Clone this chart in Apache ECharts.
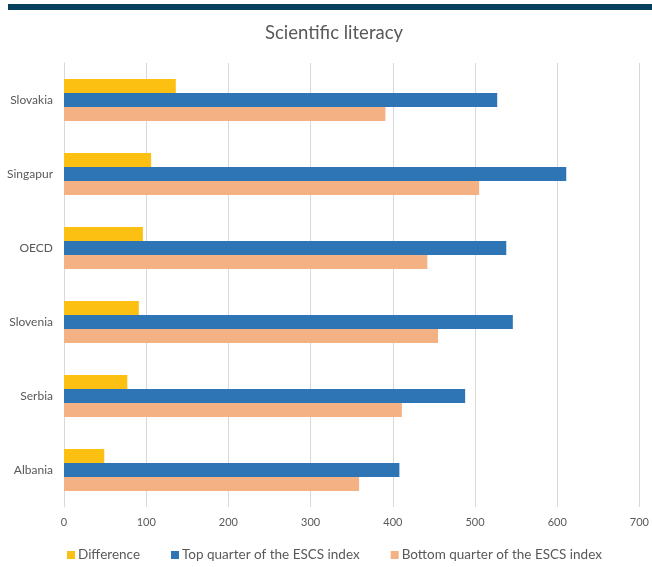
<!DOCTYPE html>
<html>
<head>
<meta charset="utf-8">
<script src="https://cdn.jsdelivr.net/npm/echarts@6/dist/echarts.min.js"></script>
<style>
  html, body { margin: 0; padding: 0; background: #fff; }
  #chart { width: 652px; height: 567px; }
</style>
</head>
<body>
<div id="chart"></div>
<script>
// Countries, listed from the bottom of the axis upward
const countries = ['Albania', 'Serbia', 'Slovenia', 'OECD', 'Singapur', 'Slovakia'];
// Score gap between the two quarters
const difference = [49, 77, 91, 96, 106, 136];
// Mean score, top quarter of the ESCS index
const topQuarter = [408, 488, 546, 538, 611, 527];
// Mean score, bottom quarter of the ESCS index
const bottomQuarter = [359, 411, 455, 442, 505, 391];
const xTicks = [0, 100, 200, 300, 400, 500, 600, 700];

const textColor = '#595959';
const font = 'Lato, "Open Sans", sans-serif';

const chart = echarts.init(document.getElementById('chart'), null, { renderer: 'canvas' });

chart.setOption({
  animation: false,
  title: {
    text: 'Scientific literacy',
    left: 329,
    textAlign: 'center',
    top: 19,
    textStyle: { color: textColor, fontSize: 18.5, fontWeight: 'normal', fontFamily: font }
  },
  graphic: [{
    type: 'rect',
    shape: { x: 8, y: 4, width: 644, height: 6 },
    style: { fill: '#053f5e' }
  }],
  legend: {
    left: 62,
    top: 543,
    itemWidth: 8,
    itemHeight: 8,
    itemGap: 31,
    icon: 'rect',
    textStyle: { color: textColor, fontSize: 13.5, fontFamily: font, padding: [0, 0, 0, -2] },
    data: ['Difference', 'Top quarter of the ESCS index', 'Bottom quarter of the ESCS index']
  },
  grid: { left: 64, right: 10, top: 63, bottom: 60, containLabel: false },
  xAxis: {
    type: 'value',
    min: xTicks[0],
    max: xTicks[xTicks.length - 1],
    interval: 100,
    axisLine: { show: false },
    axisTick: { show: false },
    axisLabel: { color: textColor, fontSize: 11, fontFamily: font, margin: 10 },
    splitLine: { lineStyle: { color: '#d9d9d9', width: 1 } }
  },
  yAxis: {
    type: 'category',
    data: countries,
    axisLine: { show: true, lineStyle: { color: '#d9d9d9' } },
    axisTick: { show: false },
    axisLabel: { color: textColor, fontSize: 12, fontFamily: font, margin: 11 }
  },
  series: [
    {
      name: 'Difference', type: 'bar', data: difference,
      barWidth: 14, barGap: '0%', itemStyle: { color: '#fcc012' }
    },
    {
      name: 'Top quarter of the ESCS index', type: 'bar', data: topQuarter,
      barWidth: 14, barGap: '0%', itemStyle: { color: '#2e75b6' }
    },
    {
      name: 'Bottom quarter of the ESCS index', type: 'bar', data: bottomQuarter,
      barWidth: 14, barGap: '0%', itemStyle: { color: '#f4b183' }
    }
  ]
});
</script>
</body>
</html>
